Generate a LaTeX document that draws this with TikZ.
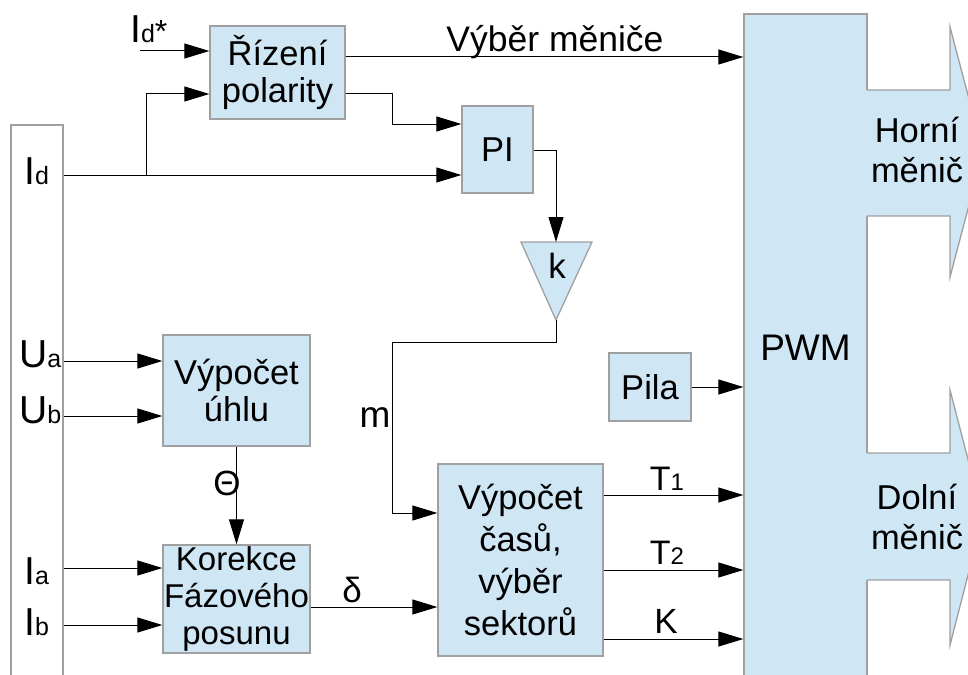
\documentclass[tikz,border=0pt]{standalone}
\usepackage{fontspec}
\setmainfont{Liberation Sans}
\usetikzlibrary{arrows.meta}
\definecolor{boxfill}{HTML}{CFE6F4}
\definecolor{boxline}{HTML}{A0A0A0}
\newcommand{\fsz}[1]{\fontsize{#1}{#1}\selectfont}
\newcommand{\sgl}[2]{{\fsz{39}#1}{\fsz{25}#2}}
\begin{document}
\begin{tikzpicture}[x=1pt,y=-1pt,
  blk/.style={draw=boxline, fill=boxfill, line width=1.3pt, inner sep=0pt, align=center, font={\fontsize{34.5}{37}\selectfont}},
  con/.style={draw=black, line width=1pt},
  arr/.style={con, -{Triangle[length=25pt,width=15pt]}},
  lbl/.style={inner sep=0pt, anchor=base}]
\useasboundingbox (0,0) rectangle (968,674);
\clip (0,0) rectangle (968,674);

% left bus
\node[draw=boxline, fill=white, line width=1.3pt, minimum width=52pt, minimum height=570pt, inner sep=0pt] (bus) at (37,410) {};

% blocks
\node[blk, minimum width=135pt, minimum height=93pt] (riz) at (277.5,72.5) {Řízení\\polarity};
\node[blk, minimum width=71pt, minimum height=87pt] (pi) at (497.5,149.5) {PI};
\node[blk, minimum width=147pt, minimum height=111pt] (uhel) at (236.5,390.5) {Výpočet\\úhlu};
\node[blk, minimum width=147pt, minimum height=108pt, font={\fontsize{33}{37}\selectfont}] (kor) at (236.5,599) {Korekce\\Fázového\\posunu};
\node[blk, minimum width=165pt, minimum height=192pt, font={\fontsize{34.5}{42}\selectfont}] (cas) at (520.5,560) {Výpočet\\časů,\\výběr\\sektorů};
\node[blk, minimum width=82pt, minimum height=68pt] (pila) at (650,387) {Pila};
\node[blk, minimum width=123pt, minimum height=668pt, font=\fsz{37}] (pwm) at (805.5,348) {PWM};

% gain triangle
\coordinate (ktop) at (556,242);
\coordinate (kbot) at (556,320);
\filldraw[draw=boxline, fill=boxfill, line width=1.3pt] (521,242) -- (592,242) -- (kbot) -- cycle;
\node[lbl, font=\fsz{35}] (k) at (557,278) {k};

% output arrows
\fill[boxfill] (865.8,90) -- (950,90) -- (950,27) -- (983,152) -- (950,277) -- (950,216) -- (865.8,216) -- cycle;
\draw[boxline, line width=1.3pt] (867,90) -- (950,90) -- (950,27) -- (983,152) -- (950,277) -- (950,216) -- (867,216);
\node[align=center, inner sep=0pt, font={\fontsize{34.5}{40}\selectfont}] (horni) at (917,150) {Horní\\měnič};
\fill[boxfill] (865.8,453) -- (950,453) -- (950,390) -- (983,517) -- (950,645) -- (950,580) -- (865.8,580) -- cycle;
\draw[boxline, line width=1.3pt] (867,453) -- (950,453) -- (950,390) -- (983,517) -- (950,645) -- (950,580) -- (867,580);
\node[align=center, inner sep=0pt, font={\fontsize{34.5}{40}\selectfont}] (dolni) at (917,517) {Dolní\\měnič};

% helper coordinates
\coordinate (idsin) at (140,51);
\coordinate (yid) at (0,175);
\coordinate (br) at (146,175);
\coordinate (ypol) at (0,94);
\coordinate (yvyb) at (0,57);
\coordinate (yrp) at (0,124);
\coordinate (ypi) at (0,150);
\coordinate (ym) at (0,342);
\coordinate (xm) at (392,0);
\coordinate (ymin) at (0,513);
\coordinate (yua) at (0,361);
\coordinate (yub) at (0,416);
\coordinate (yia) at (0,568);
\coordinate (yib) at (0,625);
\coordinate (yd) at (0,607);
\coordinate (yt1) at (0,495);
\coordinate (yt2) at (0,570);
\coordinate (yk) at (0,639);

% connectors
\draw[arr] (idsin) -- (idsin -| riz.west);
\draw[arr] (bus.east |- yid) -- (pi.west |- yid);
\draw[arr] (br) -- (br |- ypol) -- (riz.west |- ypol);
\draw[arr] (riz.east |- yvyb) -- (pwm.west |- yvyb);
\draw[arr] (riz.east |- ypol) -- (xm |- ypol) -- (xm |- yrp) -- (pi.west |- yrp);
\draw[arr] (pi.east |- ypi) -- (ktop |- ypi) -- (ktop);
\draw[arr] (kbot) -- (kbot |- ym) -- (xm |- ym) -- (xm |- ymin) -- (cas.west |- ymin);
\draw[arr] (bus.east |- yua) -- (uhel.west |- yua);
\draw[arr] (bus.east |- yub) -- (uhel.west |- yub);
\draw[arr] (bus.east |- yia) -- (kor.west |- yia);
\draw[arr] (bus.east |- yib) -- (kor.west |- yib);
\draw[arr] (uhel.south) -- (kor.north);
\draw[arr] (kor.east |- yd) -- (cas.west |- yd);
\draw[arr] (cas.east |- yt1) -- (pwm.west |- yt1);
\draw[arr] (cas.east |- yt2) -- (pwm.west |- yt2);
\draw[arr] (cas.east |- yk) -- (pwm.west |- yk);
\draw[arr] (pila.east) -- (pila.east -| pwm.west);

% labels
\node[lbl, anchor=base west] (lids) at (130,43) {\sgl{I}{d}{\fsz{32}*}};
\node[lbl, font=\fsz{35.5}] (lvyb) at (555,52) {Výběr měniče};
\node[lbl, anchor=base west] (lid) at (24,184) {\sgl{I}{d}};
\node[lbl, anchor=base west] (lua) at (19,367) {\sgl{U}{a}};
\node[lbl, anchor=base west] (lub) at (19,423) {\sgl{U}{b}};
\node[lbl, anchor=base west] (lia) at (24,584) {\sgl{I}{a}};
\node[lbl, anchor=base west] (lib) at (24,635) {\sgl{I}{b}};
\node[inner sep=0pt, font=\fsz{35}] (lth) at (227,483) {Θ};
\node[inner sep=0pt, font=\fsz{35}] (ldl) at (352,590) {δ};
\node[inner sep=0pt, font=\fsz{37}] (lm) at (375,418) {m};
\node[lbl] (lt1) at (667,490) {{\fsz{34}T}{\fsz{24}1}};
\node[lbl] (lt2) at (667,564) {{\fsz{34}T}{\fsz{24}2}};
\node[lbl, font=\fsz{35}] (lk) at (666,633) {K};
\end{tikzpicture}
\end{document}
